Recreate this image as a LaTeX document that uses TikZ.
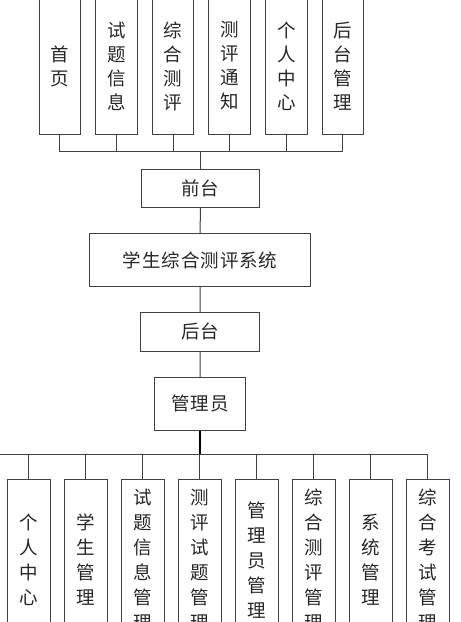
\documentclass[tikz,border=0pt]{standalone}
\usepackage{fontspec}
\newfontfamily\cjk{Noto Sans CJK SC}
\newfontfamily\cjkwide[LetterSpace=5]{Noto Sans CJK SC}
\begin{document}
\begin{tikzpicture}[x=1pt,y=-1pt,
  box/.style={draw=black!75,line width=1pt,inner sep=0pt,rectangle,font=\cjk\fontsize{18.5}{24}\selectfont,text=black!85},
  topbox/.style={box,minimum width=41.5pt,minimum height=136pt,align=center},
  botbox/.style={box,minimum width=42.4pt,minimum height=161pt,align=center,font=\cjk\fontsize{18.5}{25}\selectfont},
  midbox/.style={box,font=\cjkwide\fontsize{18.5}{24}\selectfont},
  wire/.style={draw=black!75,line width=1pt},
  thickwire/.style={draw=black,line width=2pt}]
\useasboundingbox (0,0) rectangle (461,622);
\begin{scope}
\clip (0,0) rectangle (461,622);
% top level boxes
\node[topbox] (t1) at (59.9,66) {首\\页};
\node[topbox] (t2) at (116.5,66) {试\\题\\信\\息};
\node[topbox] (t3) at (173.1,66) {综\\合\\测\\评};
\node[topbox] (t4) at (229.7,66) {测\\评\\通\\知};
\node[topbox] (t5) at (286.3,66) {个\\人\\中\\心};
\node[topbox] (t6) at (342.9,66) {后\\台\\管\\理};
% middle
\node[midbox,minimum width=118pt,minimum height=38pt] (qt) at (200.3,188.7) {前台};
\node[midbox,minimum width=221pt,minimum height=52.6pt] (sys) at (200.2,260) {学生综合测评系统};
\node[midbox,minimum width=118.3pt,minimum height=38.3pt] (ht) at (200.1,331.9) {后台};
\node[midbox,minimum width=90.6pt,minimum height=52.3pt] (gly) at (200,403.9) {管理员};
% bottom boxes
\node[botbox] (b1) at (28.9,560) {个\\人\\中\\心};
\node[botbox] (b2) at (85.9,560) {学\\生\\管\\理};
\node[botbox] (b3) at (142.9,560) {试\\题\\信\\息\\管\\理};
\node[botbox] (b4) at (199.9,560) {测\\评\\试\\题\\管\\理};
\node[botbox] (b5) at (256.9,560) {管\\理\\员\\管\\理};
\node[botbox] (b6) at (313.9,560) {综\\合\\测\\评\\管\\理};
\node[botbox] (b7) at (370.9,560) {系\\统\\管\\理};
\node[botbox] (b8) at (427.9,560) {综\\合\\考\\试\\管\\理};
% top bus
\coordinate (tbus) at (200.3,151.7);
\foreach \n in {t1,t2,t3,t4,t5,t6}{
  \draw[wire] (\n.south) -- (\n.south |- tbus);
}
\draw[wire] (t1.south |- tbus) -- (t6.south |- tbus);
\draw[wire] (tbus) -- (qt.north);
\draw[wire] (qt.south) -- (sys.north);
\draw[wire] (sys.south) -- (ht.north);
\draw[wire] (ht.south) -- (gly.north);
% bottom bus
\coordinate (bbus) at (200,454.3);
\coordinate (bleft) at (-5,454.3);
\draw[thickwire] (gly.south) -- (bbus);
\draw[wire] (bleft) -- (b8.north |- bbus);
\foreach \n in {b1,b2,b3,b4,b5,b6,b7,b8}{
  \draw[wire] (\n.north |- bbus) -- (\n.north);
}
\end{scope}
\end{tikzpicture}
\end{document}
